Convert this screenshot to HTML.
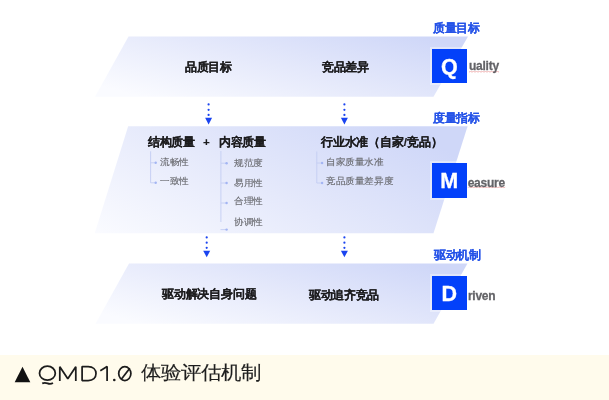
<!DOCTYPE html>
<html><head><meta charset="utf-8">
<style>
html,body{margin:0;padding:0;width:609px;height:400px;overflow:hidden;background:#fff;}
body{position:relative;font-family:"Liberation Sans",sans-serif;}
#wrap{position:absolute;left:0;top:0;width:609px;height:400px;filter:blur(0.42px);}
svg.bg{position:absolute;left:0;top:0;}
.t{position:absolute;white-space:nowrap;line-height:1;}
.h{font-size:12px;font-weight:bold;-webkit-text-stroke:0.15px currentColor;transform:scale(0.97);transform-origin:0 0;color:#1c1c1e;}
.s{font-size:10px;color:#6a6b70;-webkit-text-stroke:0.15px currentColor;transform:scale(0.96,0.9);transform-origin:0 0;}
.lbl{font-size:12px;font-weight:bold;-webkit-text-stroke:0.08px currentColor;color:#2553e8;transform:scale(0.975);transform-origin:0 0;}
.sq{position:absolute;width:34.5px;height:34.2px;background:#0341fa;box-shadow:0 0 0 2px rgba(255,255,255,0.35);color:#fff;font-weight:bold;font-size:21.5px;-webkit-text-stroke:0.3px #fff;line-height:36px;text-align:center;}
.w{font-size:12px;font-weight:bold;color:#636367;letter-spacing:-0.25px;transform:scaleY(1.12);transform-origin:0 100%;-webkit-text-stroke:0.25px currentColor;}
.cap{position:absolute;left:0;top:354.5px;width:609px;height:46px;background:#fffbec;}
</style></head><body><div id="wrap">
<svg class="bg" width="609" height="400" viewBox="0 0 609 400">
<defs>
<linearGradient id="g1" x1="0" y1="0.8" x2="1" y2="0.2">
<stop offset="0" stop-color="#fafbff"/>
<stop offset="0.5" stop-color="#e5e9fb"/>
<stop offset="1" stop-color="#cfd7f8"/>
</linearGradient>
<linearGradient id="g2" gradientUnits="userSpaceOnUse" x1="95" y1="233" x2="212.8" y2="21">
<stop offset="0" stop-color="#fafbff"/>
<stop offset="0.5" stop-color="#e5e9fb"/>
<stop offset="1" stop-color="#cfd7f8"/>
</linearGradient>
</defs>
<polygon points="128.5,36.5 468,36.5 433.5,96.7 95,96.7" fill="url(#g1)"/>
<polygon points="128.2,126.3 467.6,126.3 433.5,233.2 94.7,233.2" fill="url(#g2)"/>
<polygon points="129,263.5 467.5,263.5 433.5,323.8 95.5,323.8" fill="url(#g1)"/>
<g fill="#1a44f0">
<circle cx="208.6" cy="104.4" r="1.1"/><circle cx="208.6" cy="109.8" r="1.1"/><circle cx="208.6" cy="114.9" r="1.1"/>
<polygon points="205.1,117.8 212.1,117.8 208.6,124.4"/>
<circle cx="344.4" cy="104.4" r="1.1"/><circle cx="344.4" cy="109.8" r="1.1"/><circle cx="344.4" cy="114.9" r="1.1"/>
<polygon points="340.9,117.8 347.9,117.8 344.4,124.4"/>
<circle cx="206.7" cy="237.4" r="1.1"/><circle cx="206.7" cy="242.7" r="1.1"/><circle cx="206.7" cy="247.8" r="1.1"/>
<polygon points="203.2,250.7 210.2,250.7 206.7,257.2"/>
<circle cx="344.4" cy="237.4" r="1.1"/><circle cx="344.4" cy="242.7" r="1.1"/><circle cx="344.4" cy="247.8" r="1.1"/>
<polygon points="340.9,250.7 347.9,250.7 344.4,257.2"/>
</g>
<g stroke="#c3cdf3" stroke-width="0.9" fill="none">
<path d="M150.6 151.3 V182.8 M150.6 162.8 H155.5 M150.6 182.8 H155.5"/>
<path d="M220.9 151 V222 M220.9 163.2 H226 M220.9 183 H226 M220.9 203 H226 M220.5 229.6 H226"/>
<path d="M316.8 151.5 V183 M316.8 163 H322 M316.8 183 H322"/>
</g>
<g fill="#a3b5f3">
<circle cx="155.7" cy="162.8" r="1.2"/><circle cx="155.7" cy="182.8" r="1.2"/>
<circle cx="226.6" cy="163.2" r="1.2"/><circle cx="226.6" cy="183" r="1.2"/><circle cx="226.6" cy="203" r="1.2"/><circle cx="226.6" cy="229.6" r="1.2"/>
<circle cx="322.1" cy="163" r="1.2"/><circle cx="322.1" cy="183" r="1.2"/>
</g>
<g stroke="#f0b4b4" stroke-width="1" fill="none">
<path d="M469 72.0 L470.5 71.5 L472.0 72.0 L473.5 71.5 L475.0 72.0 L476.5 71.5 L478.0 72.0 L479.5 71.5 L481.0 72.0 L482.5 71.5 L484.0 72.0 L485.5 71.5 L487.0 72.0 L488.5 71.5 L490.0 72.0 L491.5 71.5 L493.0 72.0 L494.5 71.5 L496.0 72.0 L497.5 71.5 L499.0 72.0"/>
<path d="M467.7 187.6 L469.2 187.1 L470.7 187.6 L472.2 187.1 L473.7 187.6 L475.2 187.1 L476.7 187.6 L478.2 187.1 L479.7 187.6 L481.2 187.1 L482.7 187.6 L484.2 187.1 L485.7 187.6 L487.2 187.1 L488.7 187.6 L490.2 187.1 L491.7 187.6 L493.2 187.1 L494.7 187.6 L496.2 187.1 L497.7 187.6 L499.2 187.1 L500.7 187.6 L502.2 187.1 L503.7 187.6 L505.2 187.1"/>
</g>
</svg>

<div class="t h" style="left:185.3px;top:61px">品质目标</div>
<div class="t h" style="left:321.5px;top:61px">竞品差异</div>

<div class="t lbl" style="left:433.4px;top:22px">质量目标</div>
<div class="t lbl" style="left:433.4px;top:112px">度量指标</div>
<div class="t lbl" style="left:433.8px;top:248.8px">驱动机制</div>

<div class="sq" style="left:432px;top:49px">Q</div>
<div class="sq" style="left:432px;top:163.4px">M</div>
<div class="sq" style="left:432px;top:276.3px">D</div>

<div class="t w" style="left:469px;top:60.1px">uality</div>
<div class="t w" style="left:467.7px;top:177px">easure</div>
<div class="t w" style="left:467.9px;top:289.7px">riven</div>

<div class="t h" style="left:147.5px;top:135.5px">结构质量</div>
<div class="t h" style="left:203px;top:135.5px">+</div>
<div class="t h" style="left:219.4px;top:135.8px">内容质量</div>
<div class="t h" style="left:321px;top:135.5px;transform:scale(0.985)">行业水准（自家/竞品）</div>

<div class="t s" style="left:160.3px;top:157.7px">流畅性</div>
<div class="t s" style="left:160.3px;top:177px">一致性</div>
<div class="t s" style="left:233.7px;top:158.8px">规范度</div>
<div class="t s" style="left:233.7px;top:178.8px">易用性</div>
<div class="t s" style="left:233.7px;top:197.4px">合理性</div>
<div class="t s" style="left:233.7px;top:217.5px">协调性</div>
<div class="t s" style="left:325.5px;top:157.5px">自家质量水准</div>
<div class="t s" style="left:325.5px;top:176.5px">竞品质量差异度</div>

<div class="t h" style="left:162px;top:288px;transform:scale(0.985)">驱动解决自身问题</div>
<div class="t h" style="left:309.4px;top:288.5px;transform:scale(0.97)">驱动追齐竞品</div>

<div class="cap"></div>
<svg class="bg" width="609" height="400" viewBox="0 0 609 400">
<polygon points="14.7,382.3 30.3,382.3 22.5,366.7" fill="#111"/>
<g stroke="#1c1c1c" stroke-width="1.75" fill="none" stroke-linecap="butt" stroke-linejoin="bevel">
<ellipse cx="47.4" cy="373.2" rx="7.9" ry="7.0"/>
<path d="M42.2 383.4 Q44.8 382.2 47.6 383.4 T53 383"/>
<path d="M59.8 381 V366.8 L67.8 378.8 L75.8 366.8 V381"/>
<path d="M82.1 366.6 V380.6 H88.2 C93 380.6 96 377.8 96 373.6 C96 369.4 93 366.6 88.2 366.6 Z"/>
<path d="M100.3 370.8 L107.1 366.6 V381"/>
<ellipse cx="124.8" cy="373.6" rx="6.1" ry="6.9"/>
<path d="M121.3 379.3 L129.8 368.2"/>
</g>
<circle cx="114.3" cy="380" r="1.3" fill="#1c1c1c"/>
</svg>
<div class="t" style="left:140.5px;top:362px;font-size:20px;color:#1e1e1e;transform:scaleY(0.93);transform-origin:0 85%;-webkit-text-stroke:0.15px currentColor;">体验评估机制</div>
</div></body></html>
